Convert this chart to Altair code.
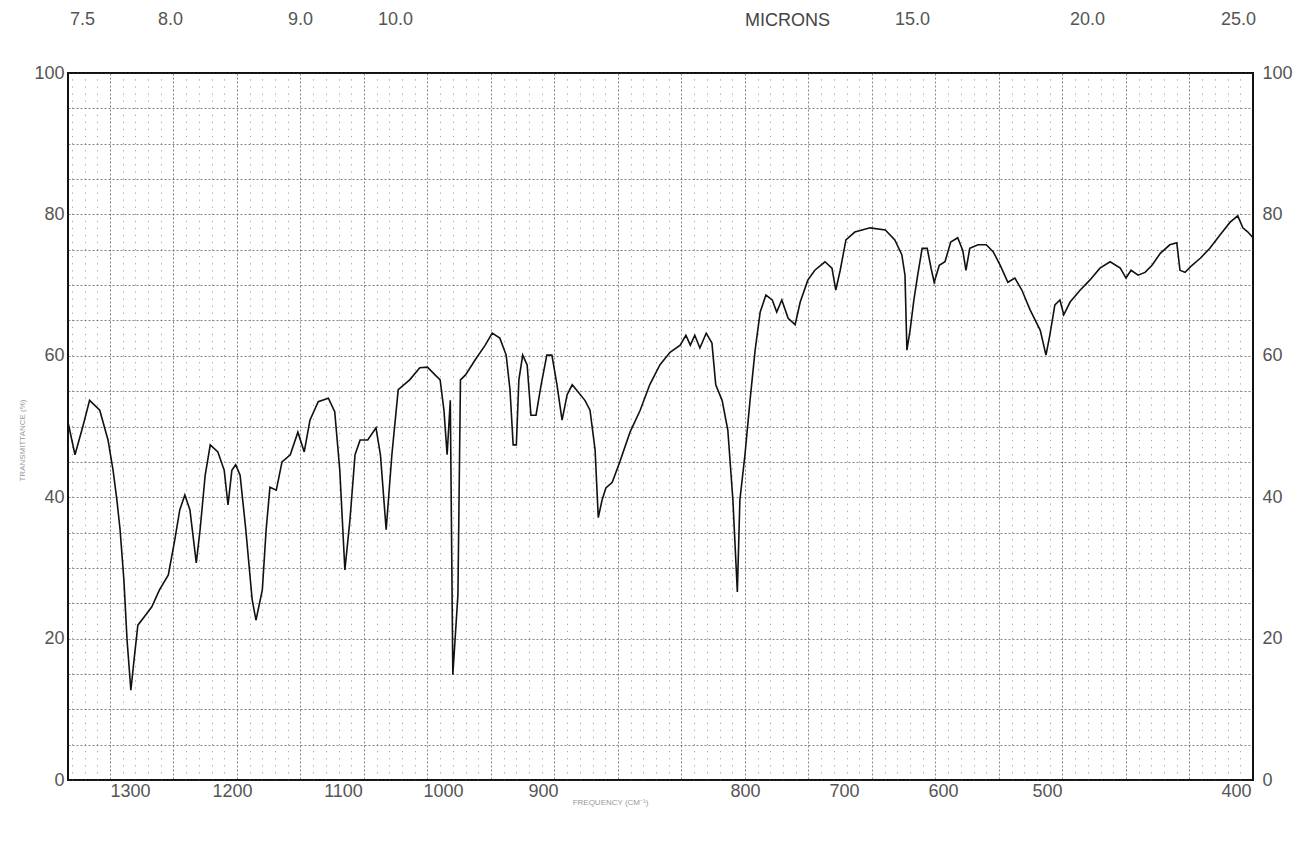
import altair as alt
import pandas as pd

# ---- data ----
wavenumber = [1333, 1327.5, 1321, 1316, 1308, 1301.5, 1297.5, 1294.5, 1292, 1289, 1286.5, 1283.5, 1281, 1278,
              1272, 1267, 1261, 1254, 1249, 1245, 1241, 1237, 1232, 1229, 1225, 1221, 1215, 1210, 1207, 1204,
              1201, 1197.5, 1193, 1188, 1185, 1180, 1177, 1174, 1169, 1164.5, 1158, 1152, 1147, 1142.5, 1136,
              1128, 1123, 1119, 1115, 1111, 1107, 1103, 1097, 1090.5, 1087, 1082.5, 1078, 1073, 1064, 1056,
              1050, 1044, 1040, 1037, 1034.5, 1032, 1030, 1026, 1024, 1020, 1012.5, 1004.5, 999, 993, 988,
              985, 982.5, 980, 978, 975, 971.5, 968.5, 964.5, 960.5, 956, 952, 948, 944, 940, 936, 931.5,
              926, 922, 918, 915.5, 912.5, 909.5, 904.5, 898.5, 890.5, 882.5, 875, 867, 859, 851, 846.5,
              843, 839.5, 835.5, 830.5, 826, 823, 818, 813.5, 809.5, 806, 804, 800, 796, 792, 788, 783.5,
              778.5, 775, 771, 766, 760.5, 756.5, 750.5, 745, 737, 731.5, 728.5, 725, 720.5, 713.5, 701.5,
              689.5, 682, 676.5, 674, 672.5, 670, 667, 664, 660.5, 656.5, 653.5, 651, 647, 642.5, 638,
              632.5, 628.5, 626, 623, 616.5, 610, 604.5, 599, 593, 587.5, 582, 575.5, 567.5, 563, 560,
              556, 552, 549, 544, 536, 528.5, 520.5, 512.5, 504.5, 500, 496, 490.5, 485, 479.5, 473,
              465.5, 460, 457.5, 453.5, 448, 441.5, 434, 426, 418, 412, 408, 404, 400]
transmittance = [50.6, 46.0, 50.2, 53.7, 52.3, 48.1, 43.8, 39.6, 35.4, 28.3, 19.8, 12.7, 17.0, 21.9,
                 23.3, 24.5, 26.9, 29.0, 33.9, 38.2, 40.3, 38.2, 30.7, 35.4, 43.1, 47.4, 46.4, 43.8, 38.9, 43.8,
                 44.6, 43.1, 35.4, 25.5, 22.6, 26.9, 35.4, 41.4, 41.0, 45.0, 46.0, 49.2, 46.4, 50.9, 53.5,
                 54.0, 52.1, 43.8, 29.7, 36.8, 46.0, 48.1, 48.1, 49.8, 46.0, 35.4, 46.0, 55.2, 56.6, 58.3,
                 58.4, 57.3, 56.6, 52.3, 46.0, 53.7, 14.9, 26.2, 56.6, 57.3, 59.4, 61.5, 63.2, 62.5, 60.1,
                 55.2, 47.4, 47.4, 56.6, 60.1, 58.7, 51.6, 51.6, 55.9, 60.1, 60.1, 55.9, 50.9, 54.5, 55.9, 54.9,
                 53.7, 52.3, 46.7, 37.1, 39.6, 41.3, 42.1, 45.0, 49.2, 52.3, 55.9, 58.7, 60.5, 61.5, 62.9,
                 61.5, 62.9, 61.1, 63.2, 61.8, 55.9, 53.7, 49.5, 39.6, 26.6, 39.6, 46.0, 53.7, 60.8, 66.2, 68.6,
                 67.9, 66.2, 67.9, 65.3, 64.4, 67.6, 70.7, 72.1, 73.3, 72.4, 69.3, 72.1, 76.4, 77.5, 78.1,
                 77.8, 76.4, 74.3, 71.4, 60.8, 63.6, 67.9, 71.4, 75.2, 75.2, 72.4, 70.4, 72.8, 73.3, 76.1,
                 76.7, 74.9, 72.1, 75.2, 75.7, 75.7, 74.7, 72.8, 70.4, 71.0, 69.3, 66.5, 63.6, 60.1, 62.9,
                 67.2, 67.9, 65.8, 67.6, 69.3, 70.7, 72.4, 73.3, 72.4, 71.0, 72.1, 71.4, 71.8, 72.8, 74.5,
                 75.7, 76.0, 72.1, 71.8, 72.8, 73.8, 75.2, 77.1, 78.9, 79.8, 78.1, 77.5, 76.7]

# printed tick labels
freq_labels = [1300, 1200, 1100, 1000, 900, 800, 700, 600, 500, 400]
micron_labels = [7.5, 8.0, 9.0, 10.0, 15.0, 20.0, 25.0]
pct_labels = [0, 20, 40, 60, 80, 100]

# ---- layout (pixels inside the plot area) ----
W, H = 1185, 707
freq_label_px = [62, 164, 275, 375, 475, 677, 776, 875, 979, 1168]
micron_label_px = [14, 102, 232, 327, 844, 1019, 1170]

FONT = "Liberation Sans"
LBL = "#555"

df = pd.DataFrame({"nu": wavenumber, "T": transmittance})
xscale = alt.Scale(domain=[1333, 400], nice=False, zero=False)
yscale = alt.Scale(domain=[0, 100], nice=False, zero=False)

major_x = list(range(1300, 400, -50))
minor_x = [v for v in range(1330, 400, -10) if v % 50]
y_grid = list(range(0, 101, 5))

curve = alt.Chart(df).mark_line(color="#111", strokeWidth=1.6).encode(
    x=alt.X("nu:Q", scale=xscale,
            axis=alt.Axis(orient="bottom", values=major_x, labels=False, ticks=False, domain=False,
                          grid=True, gridDash=[2, 2], gridColor="#333", gridOpacity=0.6, gridWidth=1,
                          title=None)),
    y=alt.Y("T:Q", scale=yscale,
            axis=alt.Axis(orient="left", values=y_grid,
                          labelExpr="datum.value % 20 == 0 ? datum.label : ''",
                          labelOverlap=False, labelFlush=False, ticks=False, domain=False,
                          grid=True, gridDash=[2, 2], gridColor="#333", gridOpacity=0.6, gridWidth=1,
                          labelPadding=4, labelFontSize=18, labelColor=LBL, labelFont=FONT,
                          title="TRANSMITTANCE (%)", titleFontSize=8, titleFontWeight="normal",
                          titleColor="#999", titleFont=FONT, titleX=-46, titleY=367,
                          titleAlign="center", titleBaseline="middle")),
)

minor = alt.Chart(df).mark_point(opacity=0).encode(
    x=alt.X("nu:Q", scale=xscale,
            axis=alt.Axis(orient="top", values=minor_x, labels=False, ticks=False, domain=False,
                          grid=True, gridDash=[1.2, 5.87], gridColor="#555", gridOpacity=0.55,
                          gridWidth=1, title=None)),
    y=alt.Y("T:Q", scale=yscale,
            axis=alt.Axis(orient="right", values=pct_labels, grid=False, ticks=False, domain=False,
                          labelOverlap=False, labelFlush=False, labelPadding=9, labelFontSize=18,
                          labelColor=LBL, labelFont=FONT, title=None)),
)

flab = alt.Chart(pd.DataFrame({"f": freq_labels})).mark_point(opacity=0).encode(
    x=alt.X("f:Q",
            scale=alt.Scale(domain=freq_labels, range=freq_label_px, nice=False, zero=False),
            axis=alt.Axis(orient="bottom", values=freq_labels, format="d", ticks=False, domain=False,
                          grid=False, labelOverlap=False, labelFlush=False, labelPadding=2,
                          labelFontSize=18, labelColor=LBL, labelFont=FONT,
                          title="FREQUENCY (CM⁻¹)", titleFontSize=8, titleFontWeight="normal",
                          titleColor="#999", titleFont=FONT, titleX=542, titleY=22,
                          titleAlign="center", titleBaseline="middle")),
    y=alt.value(0),
)

mlab = alt.Chart(pd.DataFrame({"m": micron_labels})).mark_point(opacity=0).encode(
    x=alt.X("m:Q",
            scale=alt.Scale(domain=micron_labels, range=micron_label_px, nice=False, zero=False),
            axis=alt.Axis(orient="top", values=micron_labels, format=".1f", ticks=False, domain=False,
                          grid=False, labelOverlap=False, labelFlush=False, labelPadding=45,
                          labelFontSize=18, labelColor=LBL, labelFont=FONT,
                          title="MICRONS", titleFontSize=18, titleFontWeight="normal",
                          titleColor="#444", titleFont=FONT, titleX=719, titleY=-53,
                          titleAlign="center", titleBaseline="middle")),
    y=alt.value(0),
)

chart = alt.layer(curve, minor, flab, mlab).resolve_scale(
    x="independent", y="independent"
).properties(
    width=W, height=H,
    autosize=alt.AutoSizeParams(type="none"),
    padding={"left": 60, "top": 65, "right": 52, "bottom": 53},
).configure_view(stroke="#111", strokeWidth=2)

chart.save("out.html", embed_options={"renderer": "svg", "actions": False})
